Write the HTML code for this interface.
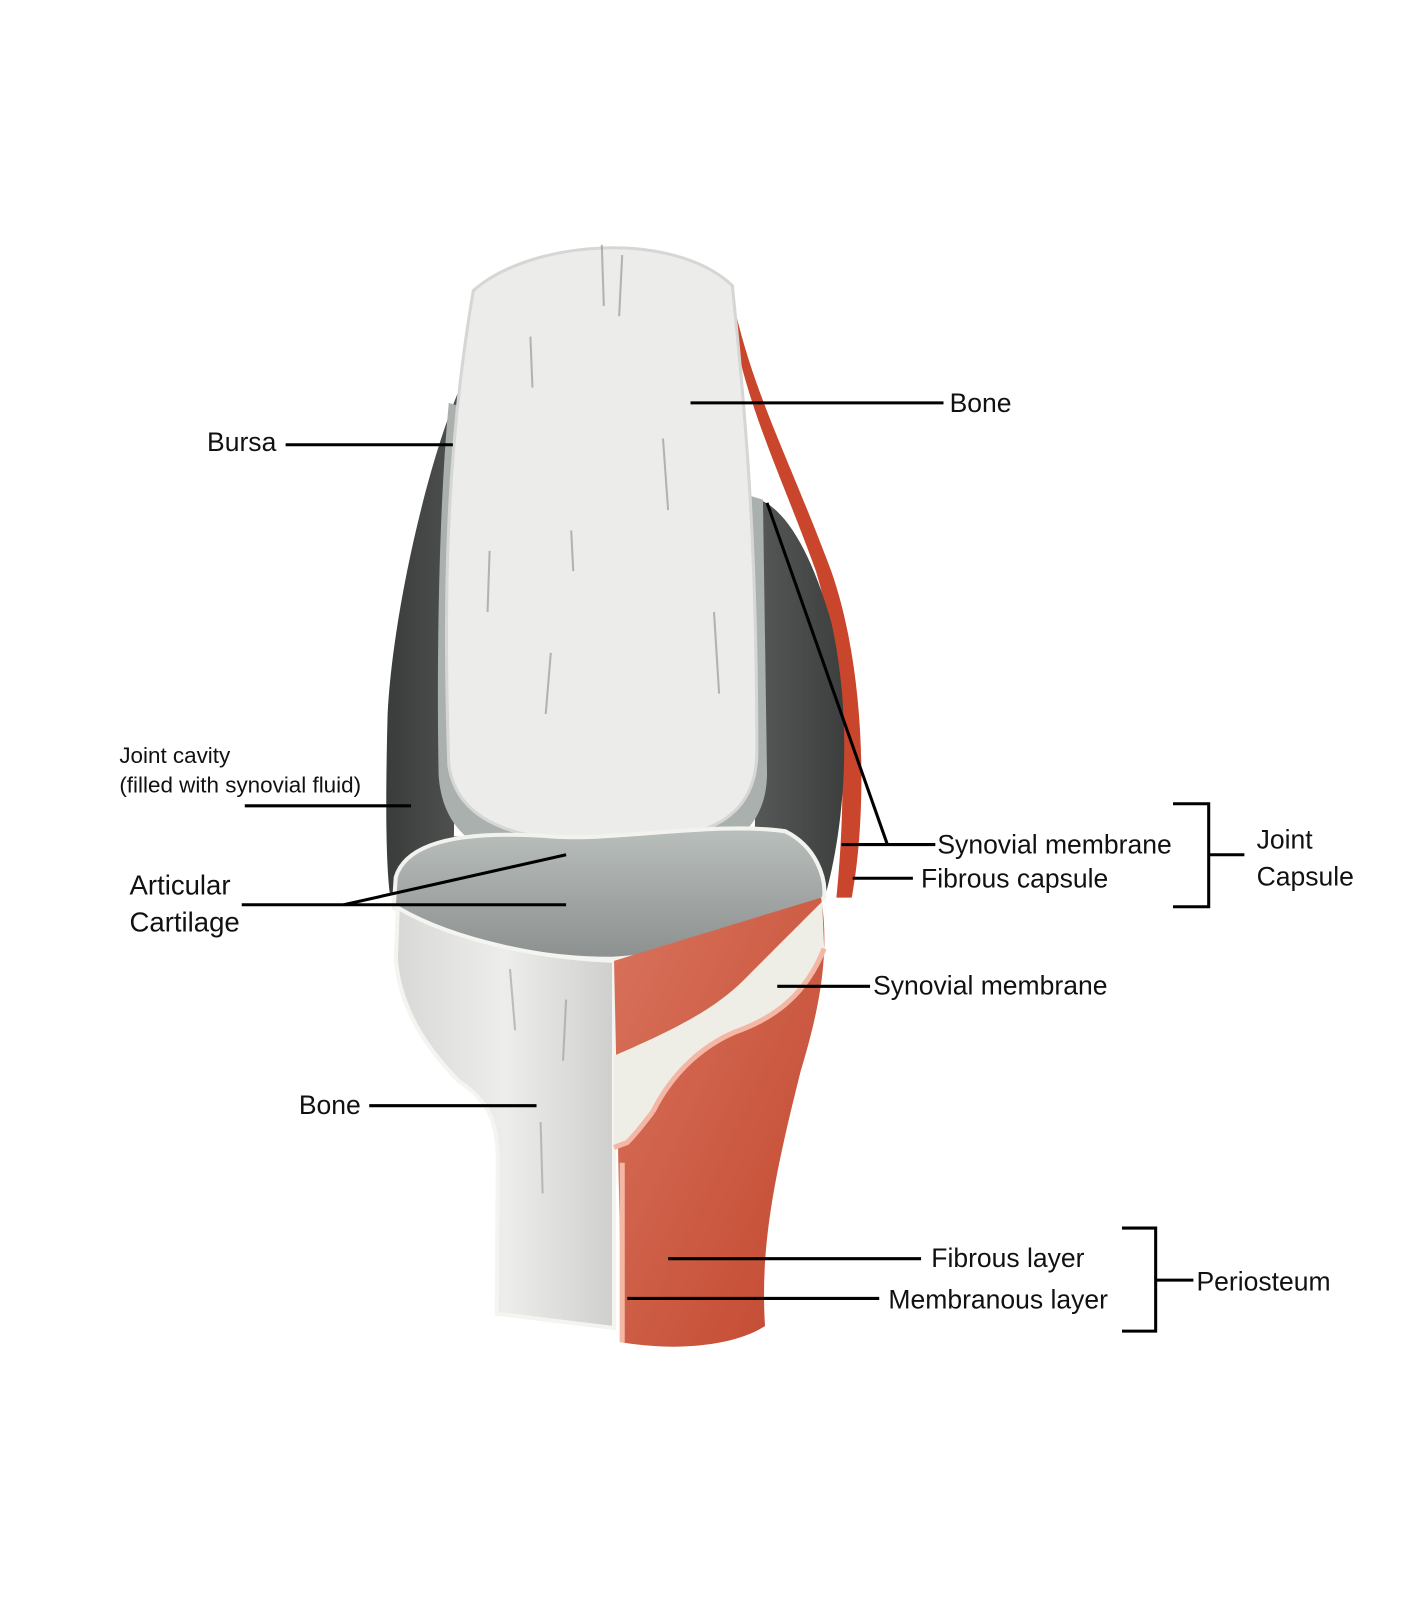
<!DOCTYPE html>
<html><head><meta charset="utf-8"><style>
html,body{margin:0;padding:0;background:#fff;}
svg{display:block;}
text{font-family:"Liberation Sans",sans-serif;fill:#111;}
</style></head><body>
<svg width="1420" height="1600" viewBox="0 0 1420 1600" xmlns="http://www.w3.org/2000/svg">
<defs>
<linearGradient id="dark" x1="0" x2="1" y1="0" y2="0">
<stop offset="0" stop-color="#3a3c3c"/><stop offset="0.5" stop-color="#7d807f"/><stop offset="1" stop-color="#3d3f3f"/></linearGradient>
<linearGradient id="cart" x1="0" x2="0" y1="0" y2="1">
<stop offset="0" stop-color="#b9bfbc"/><stop offset="1" stop-color="#8c908f"/></linearGradient>
<linearGradient id="red" x1="0" x2="1" y1="0" y2="1">
<stop offset="0" stop-color="#d9735c"/><stop offset="1" stop-color="#c2472f"/></linearGradient>
<linearGradient id="lbone" x1="0" x2="1">
<stop offset="0" stop-color="#d8d8d6"/><stop offset="0.5" stop-color="#ededeb"/><stop offset="1" stop-color="#cfcfcd"/></linearGradient>
</defs>
<g transform="scale(1.02)">
<path d="M716 282 C735 380 770 440 815 560 C850 660 850 800 835 880 L820 880 C830 780 830 660 800 560 C760 450 722 380 714 282 Z" fill="#c9462c"/>
<path d="M452 378 C420 450 385 600 380 700 C378 780 378 840 382 875 L810 875 C830 800 835 700 815 610 C795 540 770 500 745 490 L740 820 L445 820 Z" fill="url(#dark)"/>
<path d="M440 395 C430 500 428 650 430 760 C435 830 490 850 580 850 C690 850 750 830 752 760 L748 490 Z" fill="#a9b0ad"/>
<path d="M464 285 C520 235 660 225 718 280 C730 400 742 520 742 740 C740 805 690 825 600 826 C510 826 448 808 440 750 C435 600 436 450 464 285 Z" fill="#ececea" stroke="#d6d6d4" stroke-width="3"/>
<g stroke="#8a8d8c" stroke-width="2" opacity="0.6">
<line x1="590" y1="240" x2="592" y2="300"/><line x1="610" y1="250" x2="607" y2="310"/><line x1="540" y1="640" x2="535" y2="700"/><line x1="650" y1="430" x2="655" y2="500"/><line x1="520" y1="330" x2="522" y2="380"/><line x1="700" y1="600" x2="705" y2="680"/><line x1="560" y1="520" x2="562" y2="560"/><line x1="480" y1="540" x2="478" y2="600"/>
</g>
<path d="M388 860 C400 820 470 815 540 820 C600 825 700 805 770 815 C800 830 810 860 808 880 C780 900 690 935 600 940 C500 940 420 910 386 890 Z" fill="url(#cart)" stroke="#f2f2ee" stroke-width="4"/>
<path d="M390 890 C450 925 540 940 602 942 L602 1302 L487 1288 L488 1140 C488 1100 480 1080 450 1060 C420 1030 392 990 388 940 Z" fill="url(#lbone)" stroke="#f4f4f0" stroke-width="4"/>
<g stroke="#8a8d8c" stroke-width="2" opacity="0.5">
<line x1="500" y1="950" x2="505" y2="1010"/><line x1="530" y1="1100" x2="532" y2="1170"/><line x1="555" y1="980" x2="552" y2="1040"/></g>
<path d="M602 942 L805 880 C815 940 800 1000 785 1050 C760 1150 745 1220 750 1300 C720 1320 660 1325 610 1316 Z" fill="url(#red)"/>
<path d="M602 1035 C660 1010 700 990 730 960 C760 930 790 900 806 884 L808 930 C790 975 760 1000 720 1012 C690 1030 660 1050 640 1090 L615 1120 L602 1125 Z" fill="#eeeee6"/>
<path d="M640 1090 C660 1050 690 1025 720 1012 C760 998 790 975 808 930" fill="none" stroke="#f4b7a5" stroke-width="5"/>
<path d="M602 1125 L615 1120 C625 1110 632 1100 640 1090" fill="none" stroke="#f4b7a5" stroke-width="5"/>
<path d="M610 1140 L610 1316" stroke="#f4b7a5" stroke-width="5"/>
<g stroke="#000" stroke-width="3" fill="none">
<line x1="677" y1="395" x2="925" y2="395"/>
<line x1="280" y1="436" x2="444" y2="436"/>
<line x1="240" y1="790" x2="403" y2="790"/>
<polyline points="237,887 555,887"/>
<line x1="337" y1="887" x2="555" y2="838"/>
<polyline points="752,493 870,828"/>
<line x1="825" y1="828" x2="917" y2="828"/>
<line x1="836" y1="861" x2="895" y2="861"/>
<line x1="762" y1="967" x2="853" y2="967"/>
<line x1="362" y1="1084" x2="526" y2="1084"/>
<line x1="655" y1="1234" x2="903" y2="1234"/>
<line x1="615" y1="1273" x2="862" y2="1273"/>
<polyline points="1150,788 1185,788 1185,889 1150,889"/>
<line x1="1185" y1="838" x2="1220" y2="838"/>
<polyline points="1100,1204 1133,1204 1133,1305 1100,1305"/>
<line x1="1133" y1="1255" x2="1170" y2="1255"/>
</g>
<text x="931" y="404" font-size="26">Bone</text>
<text x="203" y="442" font-size="26">Bursa</text>
<text x="117" y="748" font-size="22">Joint cavity</text>
<text x="117" y="777" font-size="22">(filled with synovial fluid)</text>
<text x="127" y="877" font-size="27">Articular</text>
<text x="127" y="913" font-size="27">Cartilage</text>
<text x="919" y="837" font-size="26">Synovial membrane</text>
<text x="903" y="870" font-size="26">Fibrous capsule</text>
<text x="1232" y="832" font-size="26">Joint</text>
<text x="1232" y="868" font-size="26">Capsule</text>
<text x="856" y="975" font-size="26">Synovial membrane</text>
<text x="293" y="1092" font-size="26">Bone</text>
<text x="913" y="1242" font-size="26">Fibrous layer</text>
<text x="871" y="1283" font-size="26">Membranous layer</text>
<text x="1173" y="1265" font-size="26">Periosteum</text>
</g>
</svg>
</body></html>
